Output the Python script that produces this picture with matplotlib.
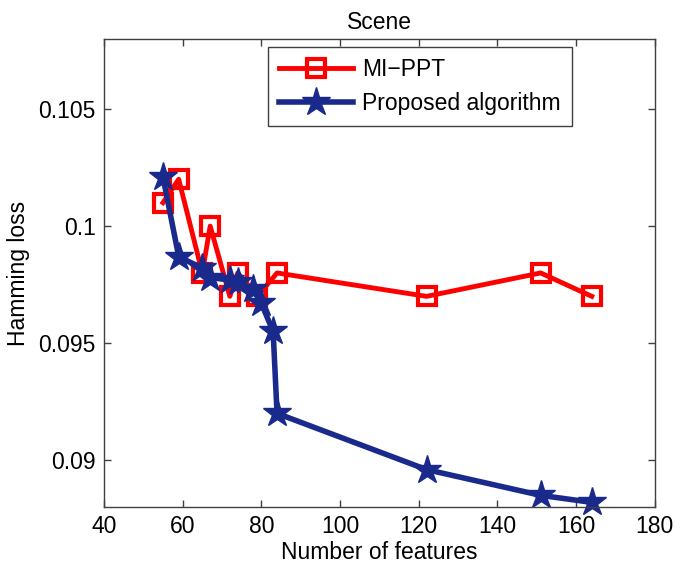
#!/usr/bin/env python3
# Hamming loss vs number of features, "Scene" data set

import matplotlib
matplotlib.use('Agg')
import matplotlib.pyplot as plt

plt.rcParams['font.family'] = ['Liberation Sans', 'DejaVu Sans']

# MI-PPT
mippt_x = [55, 59, 65, 67, 72, 74, 79, 84, 122, 151, 164]
mippt_y = [0.101, 0.102, 0.098, 0.100, 0.097, 0.098, 0.097, 0.098, 0.097, 0.098, 0.097]

# Proposed algorithm
prop_x = [55, 59, 65, 67, 72, 74, 78, 80, 83, 84, 122, 151, 164]
prop_y = [0.1021, 0.0987, 0.0982, 0.0978, 0.0977, 0.0976, 0.0973, 0.0967,
          0.0955, 0.0920, 0.0896, 0.0885, 0.0882]

xticks = [40, 60, 80, 100, 120, 140, 160, 180]
yticks = [0.09, 0.095, 0.1, 0.105]
ytick_labels = ['0.09', '0.095', '0.1', '0.105']

red = '#ff0000'
blue = '#1a2a8c'
fs = 16.5

fig = plt.figure(figsize=(6.75, 5.71), dpi=100)
ax = fig.add_axes([0.154, 0.112, 0.816, 0.820])

ax.plot(mippt_x, mippt_y, '-s', color=red, linewidth=3.5, markersize=13,
        markerfacecolor='none', markeredgewidth=3, label='MI\u2212PPT', clip_on=False)
ax.plot(prop_x, prop_y, '-*', color=blue, linewidth=4, markersize=21,
        label='Proposed algorithm', clip_on=False)

ax.set_xlim(40, 180)
ax.set_ylim(0.088, 0.108)
ax.set_xticks(xticks)
ax.set_yticks(yticks)
ax.set_yticklabels(ytick_labels)

ax.tick_params(direction='in', top=True, right=True, length=5, width=1,
               labelsize=fs, color='#404040', pad=6)
for sp in ax.spines.values():
    sp.set_color('#404040')
    sp.set_linewidth(1)

ax.set_xlabel('Number of features', fontsize=fs, labelpad=2)
ax.set_ylabel('Hamming loss', fontsize=fs, labelpad=6)
ax.set_title('Scene', fontsize=fs, pad=7)

leg = ax.legend(loc='upper left', bbox_to_anchor=(0.2976, 0.983), fontsize=fs,
                fancybox=False, framealpha=1, edgecolor='#404040',
                handlelength=3.2, borderpad=0.5, labelspacing=0.45,
                handletextpad=0.4, borderaxespad=0)
leg.get_frame().set_linewidth(1)

plt.savefig('out.png', dpi=100)
